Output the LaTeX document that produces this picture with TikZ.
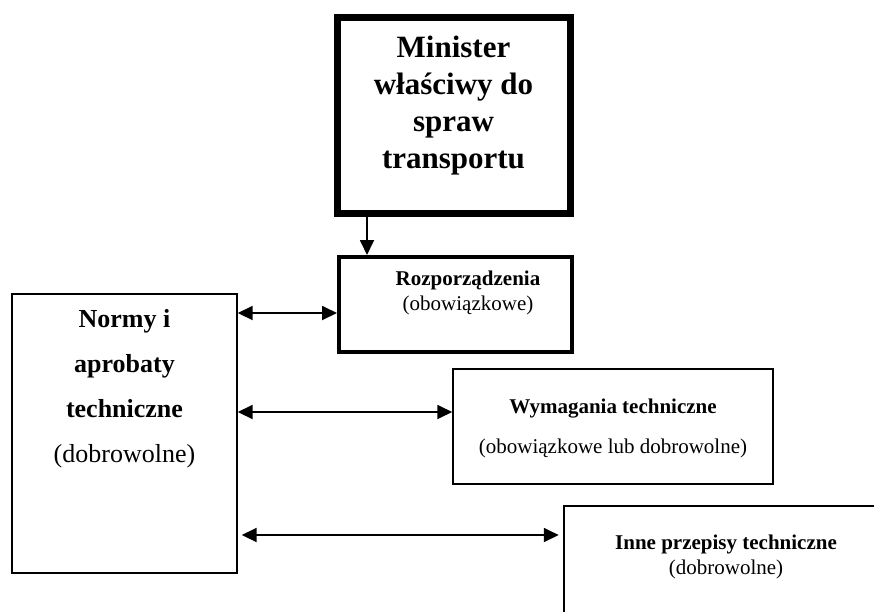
\documentclass[tikz,border=0pt]{standalone}
\usepackage{fontspec}
\setmainfont{Liberation Serif}
\usetikzlibrary{arrows.meta}

\tikzset{
  box/.style={draw,rectangle,inner sep=0pt},
  arr/.style={-{Triangle[length=15pt,width=14pt]},line width=1.8pt},
  twoway/.style={{Triangle[length=15pt,width=14pt]}-{Triangle[length=15pt,width=14pt]},line width=1.8pt},
  label/.style={anchor=base,align=center,inner sep=0pt},
}

\begin{document}
\begin{tikzpicture}[x=1pt,y=-1pt]
  % --- page ---
  \useasboundingbox (0,0) rectangle (874,611);
  \clip (0,0) rectangle (874,611);

  % --- boxes ---
  \node[box,line width=7pt,minimum width=233pt,minimum height=196pt] (minister) at (453.5,115) {};
  \node[box,line width=4pt,minimum width=233pt,minimum height=95pt] (rozp) at (455.5,304.5) {};
  \node[box,line width=1.4pt,minimum width=225pt,minimum height=279pt] (normy) at (124.5,433.5) {};
  \node[box,line width=1.5pt,minimum width=320pt,minimum height=115pt] (wymag) at (613,426.5) {};
  \node[box,line width=2.5pt,minimum width=340pt,minimum height=140pt] (inne) at (734,576) {};

  % --- texts (anchored at the baseline of their last line) ---
  \node[label,font=\fontsize{31}{37}\selectfont\bfseries] (ministertxt) at (453.5,168)
    {Minister\\właściwy do\\spraw\\transportu};
  \node[label,font=\fontsize{21}{25}\selectfont] (rozptxt) at (468,310)
    {\textbf{Rozporządzenia}\\(obowiązkowe)};
  \node[label,font=\fontsize{26}{45}\selectfont] (normytxt) at (124.5,462)
    {\textbf{Normy i}\\\textbf{aprobaty}\\\textbf{techniczne}\\(dobrowolne)};
  \node[label,font=\fontsize{21}{40}\selectfont] (wymagtxt) at (613,453)
    {\textbf{Wymagania techniczne}\\(obowiązkowe lub dobrowolne)};
  \node[label,font=\fontsize{21}{25}\selectfont] (innetxt) at (726,574)
    {\textbf{Inne przepisy techniczne}\\(dobrowolne)};

  % --- levels of the connectors ---
  \coordinate (down) at (367,0);
  \coordinate (lvla) at (0,313);
  \coordinate (lvlb) at (0,412);
  \coordinate (lvlc) at (0,535);

  % --- connectors ---
  \draw[arr] (minister.south -| down) -- (rozp.north -| down);
  \draw[twoway] (normy.east |- lvla) -- (rozp.west |- lvla);
  \draw[twoway] (normy.east |- lvlb) -- (wymag.west |- lvlb);
  \draw[twoway,shorten <=4pt,shorten >=4pt] (normy.east |- lvlc) -- (inne.west |- lvlc);

\end{tikzpicture}
\end{document}
